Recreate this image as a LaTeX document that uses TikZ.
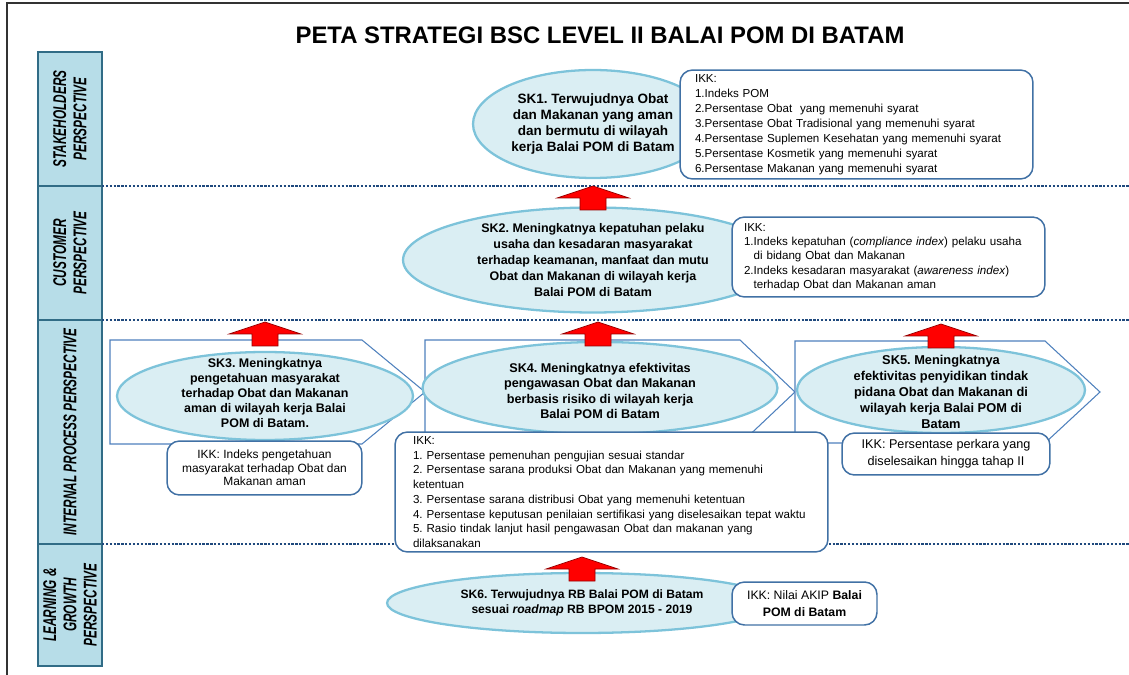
\documentclass[tikz,border=0pt]{standalone}
\usepackage{fontspec}
\setmainfont{Liberation Sans}
\newfontfamily\narrowsans{Liberation Sans}[FakeStretch=0.64]
\usetikzlibrary{shapes.geometric}
\frenchspacing
\hyphenpenalty=10000

\definecolor{perspfill}{RGB}{183,221,232}
\definecolor{perspline}{RGB}{49,108,134}
\definecolor{sepblue}{RGB}{31,73,125}
\definecolor{chevline}{RGB}{79,129,189}
\definecolor{goalfill}{RGB}{218,238,243}
\definecolor{goalline}{RGB}{125,195,218}
\definecolor{ikkline}{RGB}{65,113,165}
\definecolor{arrowline}{RGB}{150,0,0}

\tikzset{
  frame/.style={draw=black!80, line width=0.6pt},
  persp/.style={draw=perspline, fill=perspfill, line width=1.2pt, rotate=90,
    minimum height=1.28cm, inner sep=0pt, align=center,
    font=\narrowsans\bfseries\itshape\fontsize{10.5}{11.5}\selectfont},
  sepline/.style={draw=sepblue, line width=1.3pt, dash pattern=on 1.3pt off 0.9pt},
  chevron/.style={draw=chevline, fill=white, line width=0.6pt},
  goal/.style={ellipse, draw=goalline, fill=goalfill, line width=1.3pt, inner sep=0pt},
  goaltext/.style={align=center, inner sep=0pt, font=\bfseries\fontsize{7.3}{9}\selectfont},
  ikk/.style={draw=ikkline, fill=white, line width=0.85pt, rounded corners=0.25cm,
    inner ysep=2pt, font=\fontsize{6.6}{8.5}\selectfont},
  redup/.style={fill=red, draw=arrowline, line width=0.4pt}
}

\begin{document}
\begin{tikzpicture}[x=0.02cm, y=-0.02cm]
\useasboundingbox (0,0) rectangle (1129,675);
\draw[frame] (7,700) -- (7,3) -- (1140,3);

\node[font=\bfseries\fontsize{13.6}{16}\selectfont] (title) at (600,35)
  {PETA STRATEGI BSC LEVEL II BALAI POM DI BATAM};

% perspectives
\node[persp, minimum width=2.68cm] (p1) at (70,119) {STAKEHOLDERS\\PERSPECTIVE};
\node[persp, minimum width=2.68cm] (p2) at (70,253) {CUSTOMER\\PERSPECTIVE};
\node[persp, minimum width=4.48cm] (p3) at (70,432) {INTERNAL PROCESS PERSPECTIVE};
\node[persp, minimum width=2.44cm] (p4) at (70,605) {LEARNING \&\\GROWTH\\PERSPECTIVE};

\draw[sepline] (102,186) -- (1140,186);
\draw[sepline] (102,320) -- (1140,320);
\draw[sepline] (102,544) -- (1140,544);

% internal process chevrons
\draw[chevron] (110,340) -- (362,340) -- (425,392) -- (362,444) -- (110,444) -- cycle;
\draw[chevron] (425,340) -- (740,340) -- (795,392) -- (740,444) -- (425,444) -- cycle;
\draw[chevron] (795,341) -- (1045,341) -- (1100,392) -- (1045,443) -- (795,443) -- cycle;

% sasaran strategis
\node[goal, minimum width=4.8cm, minimum height=2.16cm] (sk1) at (593,124) {};
\node[goaltext, font=\bfseries\fontsize{7.7}{9.1}\selectfont] (sk1t) at (sk1)
  {SK1. Terwujudnya Obat\\dan Makanan yang aman\\dan bermutu di wilayah\\kerja Balai POM di Batam};

\node[goal, minimum width=7.6cm, minimum height=2.1cm] (sk2) at (593,260) {};
\node[goaltext, font=\bfseries\fontsize{7.1}{9}\selectfont] (sk2t) at (sk2)
  {SK2. Meningkatnya kepatuhan pelaku\\usaha dan kesadaran masyarakat\\terhadap keamanan, manfaat dan mutu\\Obat dan Makanan di wilayah kerja\\Balai POM di Batam};

\node[goal, minimum width=5.92cm, minimum height=1.76cm] (sk3) at (265,396) {};
\node[goaltext, font=\bfseries\fontsize{7.1}{8.6}\selectfont] (sk3t) at (265,393)
  {SK3. Meningkatnya\\pengetahuan masyarakat\\terhadap Obat dan Makanan\\aman di wilayah kerja Balai\\POM di Batam.};

\node[goal, minimum width=7.1cm, minimum height=1.84cm] (sk4) at (600,388) {};
\node[goaltext, font=\bfseries\fontsize{7.2}{8.8}\selectfont] (sk4t) at (600,391)
  {SK4. Meningkatnya efektivitas\\pengawasan Obat dan Makanan\\berbasis risiko di wilayah kerja\\Balai POM di Batam};

\node[goal, minimum width=5.76cm, minimum height=1.72cm] (sk5) at (941,390) {};
\node[goaltext] (sk5t) at (941,392)
  {SK5. Meningkatnya\\efektivitas penyidikan tindak\\pidana Obat dan Makanan di\\wilayah kerja Balai POM di\\Batam};

\node[goal, minimum width=7.8cm, minimum height=1.2cm] (sk6) at (582,603) {};
\node[goaltext, font=\bfseries\fontsize{6.9}{8.8}\selectfont] (sk6t) at (sk6)
  {SK6. Terwujudnya RB Balai POM di Batam\\sesuai \textit{roadmap} RB BPOM 2015 - 2019};

% indikator kinerja
\node[ikk, minimum height=2.18cm, text width=6.46cm, inner xsep=0.3cm, align=left] (ikk1) at (856.5,124.5)
  {IKK:\\1.Indeks POM\\2.Persentase Obat\ \ yang memenuhi syarat\\3.Persentase Obat Tradisional yang memenuhi syarat\\4.Persentase Suplemen Kesehatan yang memenuhi syarat\\5.Persentase Kosmetik yang memenuhi syarat\\6.Persentase Makanan yang memenuhi syarat};

\node[ikk, minimum height=1.6cm, text width=5.78cm, inner xsep=0.24cm, align=left,
  font=\fontsize{6.6}{8.1}\selectfont] (ikk2) at (888.5,257)
  {IKK:\\1.Indeks kepatuhan (\textit{compliance index}) pelaku usaha\\\phantom{1.}di bidang Obat dan Makanan\\2.Indeks kesadaran masyarakat (\textit{awareness index})\\\phantom{2.}terhadap Obat dan Makanan aman};

\node[ikk, minimum width=3.9cm, minimum height=1.08cm, align=center,
  font=\fontsize{6.8}{7.6}\selectfont] (ikk3) at (264.5,468)
  {IKK: Indeks pengetahuan\\masyarakat terhadap Obat dan\\Makanan aman};

\node[ikk, minimum height=2.4cm, text width=7.94cm, inner xsep=0.36cm, align=left,
  font=\fontsize{6.6}{8.4}\selectfont] (ikk4) at (611.5,492)
  {IKK:\\1. Persentase pemenuhan pengujian sesuai standar\\2. Persentase sarana produksi Obat dan Makanan yang memenuhi\\ketentuan\\3. Persentase sarana distribusi Obat yang memenuhi ketentuan\\4. Persentase keputusan penilaian sertifikasi yang diselesaikan tepat waktu\\5. Rasio tindak lanjut hasil pengawasan Obat dan makanan yang\\dilaksanakan};

\node[ikk, minimum width=4.16cm, minimum height=0.84cm, align=center,
  font=\fontsize{7.2}{9.5}\selectfont] (ikk5) at (946,454)
  {IKK: Persentase perkara yang\\diselesaikan hingga tahap II};

\node[ikk, minimum width=2.9cm, minimum height=0.86cm, align=center,
  font=\fontsize{7}{9.5}\selectfont] (ikk6) at (804.5,603.5)
  {IKK: Nilai AKIP \textbf{Balai}\\\textbf{POM di Batam}};

% panah antar perspektif
\foreach \ax/\ay in {593/186, 265/322, 598/322, 941/324, 582/557}
  \draw[redup] (\ax,\ay) -- ++(36,12) -- ++(-23,0) -- ++(0,12) -- ++(-26,0)
    -- ++(0,-12) -- ++(-23,0) -- cycle;
\end{tikzpicture}
\end{document}
